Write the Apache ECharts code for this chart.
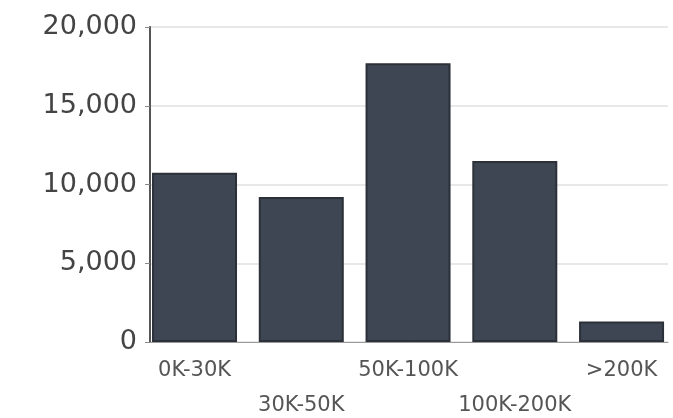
<!DOCTYPE html>
<html>
<head>
<meta charset="utf-8">
<script src="https://cdn.jsdelivr.net/npm/echarts@6/dist/echarts.min.js"></script>
<style>html,body{margin:0;padding:0;background:#fff;}#c{width:673px;height:418px;}</style>
</head>
<body>
<div id="c"></div>
<script>
var categories = ['0K-30K', '30K-50K', '50K-100K', '100K-200K', '>200K'];
var values = [10750, 9200, 17700, 11500, 1300];
var yTicks = [0, 5000, 10000, 15000, 20000];

var chart = echarts.init(document.getElementById('c'), null, {renderer: 'canvas'});
var seriesData = values.map(function (v, i) { return [i, v]; });
chart.setOption({
  animation: false,
  backgroundColor: '#ffffff',
  grid: {left: 150, right: 5, top: 27, bottom: 76, containLabel: false, outerBoundsMode: 'none'},
  xAxis: {
    type: 'value',
    min: -0.417,
    max: 4.435,
    splitLine: {show: false},
    axisLine: {show: true, onZero: false, lineStyle: {color: '#9a9a9a', width: 1}},
    axisTick: {show: false},
    axisLabel: {
      customValues: categories.map(function (c, i) { return i; }),
      hideOverlap: false,
      margin: 11,
      fontFamily: 'DejaVu Sans',
      fontSize: 21,
      lineHeight: 35,
      color: '#555',
      formatter: function (v) {
        var i = Math.round(v);
        return (i % 2 === 1 ? '\n' : '') + categories[i];
      }
    }
  },
  yAxis: {
    type: 'value',
    min: yTicks[0],
    max: yTicks[yTicks.length - 1],
    interval: 5000,
    axisLine: {show: true, onZero: false, lineStyle: {color: '#555', width: 2}},
    axisTick: {show: true, length: 5, lineStyle: {color: '#888'}},
    splitLine: {show: true, lineStyle: {color: '#e8e8e8', width: 2}},
    axisLabel: {
      margin: 13,
      fontFamily: 'DejaVu Sans',
      fontSize: 27,
      color: '#444',
      formatter: function (v) { return v.toLocaleString('en-US'); }
    }
  },
  series: [{
    type: 'bar',
    data: seriesData,
    barWidth: 85,
    itemStyle: {color: '#3f4653', borderColor: '#2c3139', borderWidth: 2}
  }]
});
</script>
</body>
</html>
